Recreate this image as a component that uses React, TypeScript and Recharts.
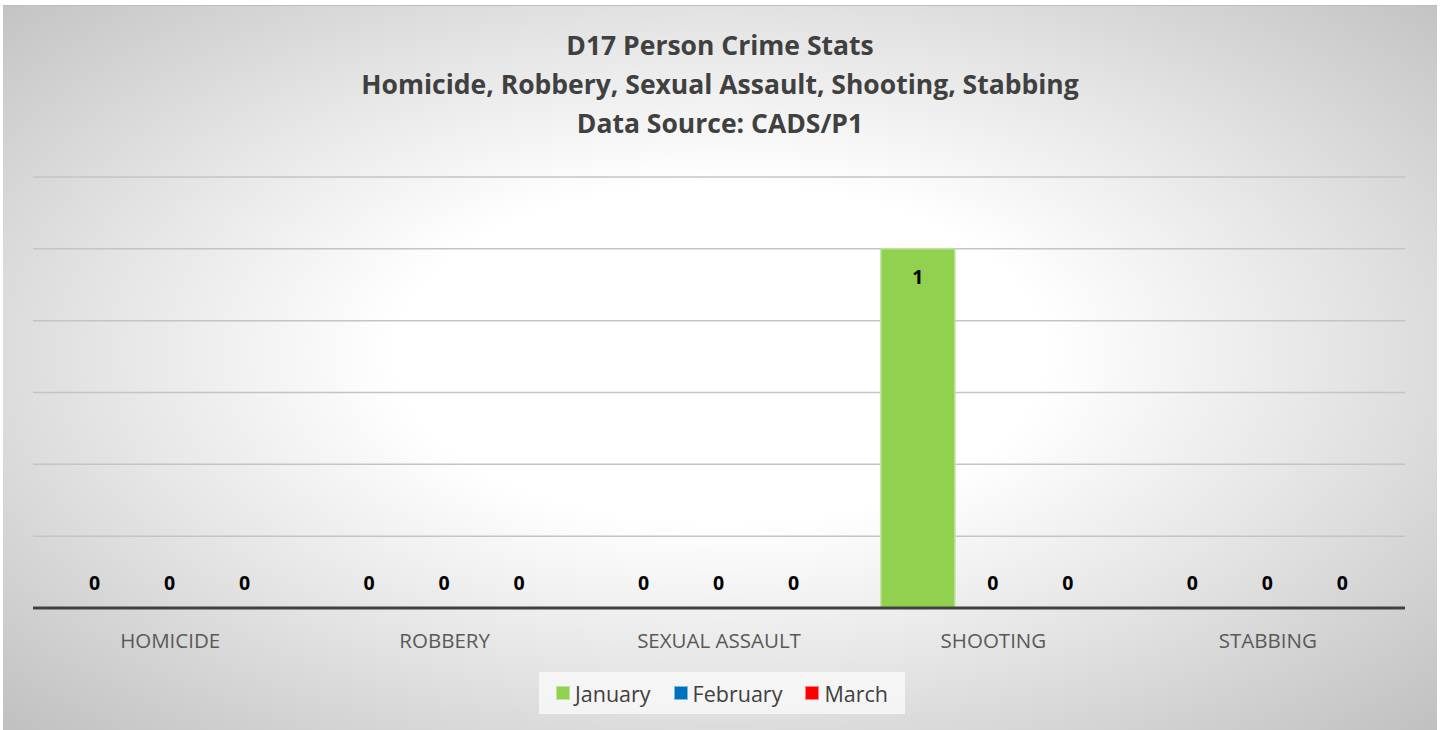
import { Bar, BarChart, CartesianGrid, LabelList, Legend, XAxis, YAxis } from 'recharts'

const categories = ['HOMICIDE', 'ROBBERY', 'SEXUAL ASSAULT', 'SHOOTING', 'STABBING']
const january = [0, 0, 0, 1, 0]
const february = [0, 0, 0, 0, 0]
const march = [0, 0, 0, 0, 0]
const yTicks = [0, 0.2, 0.4, 0.6, 0.8, 1, 1.2]
const titleLines = [
  'D17 Person Crime Stats',
  'Homicide, Robbery, Sexual Assault, Shooting, Stabbing',
  'Data Source: CADS/P1',
]

const SERIES = [
  { key: 'january', name: 'January', fill: '#92d050', stroke: '#bde39a' },
  { key: 'february', name: 'February', fill: '#0070c0', stroke: '#7fb7df' },
  { key: 'march', name: 'March', fill: '#ff0000', stroke: '#ff8080' },
]

const FONT = '"Open Sans", Lato, sans-serif'

const data = categories.map((name, i) => ({
  name,
  january: january[i],
  february: february[i],
  march: march[i],
}))

// zero bars still need a rect so their "0" label gets drawn
const tinyForZero = (v: any) => (Number(v) === 0 ? 0.01 : 0)

const renderValue = (props: any) => {
  const { x, y, width, height, value } = props
  const cx = Number(x) + Number(width) / 2
  const top = Math.min(Number(y), Number(y) + Number(height))
  const cy = Number(value) === 0 ? top - 25 : top + 28
  return (
    <text
      key={`${x}-${y}`}
      x={cx}
      y={cy}
      textAnchor="middle"
      dominantBaseline="central"
      style={{ fontFamily: FONT, fontWeight: 700, fontSize: 19.5, fill: '#000' }}
    >
      {value}
    </text>
  )
}

function LegendBox() {
  return (
    <div
      style={{
        display: 'flex',
        alignItems: 'center',
        justifyContent: 'center',
        gap: 23,
        height: 42,
        background: 'rgba(248,248,248,0.85)',
        fontFamily: FONT,
        fontSize: 21.5,
        color: '#404040',
      }}
    >
      {SERIES.map((s) => (
        <span key={s.key} style={{ display: 'flex', alignItems: 'center' }}>
          <span
            style={{
              display: 'inline-block',
              width: 12,
              height: 12,
              background: s.fill,
              border: `1px solid ${s.stroke}`,
              marginRight: 5,
            }}
          />
          {s.name}
        </span>
      ))}
    </div>
  )
}

export default function App() {
  return (
    <div style={{ position: 'absolute', left: 0, top: 0, width: 1441, height: 730, background: '#fff' }}>
      <div
        style={{
          position: 'absolute',
          left: 3,
          top: 5,
          width: 1434,
          height: 725,
          borderTop: '1px solid #bdbdbd',
          boxSizing: 'border-box',
          background:
            'radial-gradient(ellipse farthest-corner at 50% 48%, #ffffff 0%, #ffffff 32%, #e6e6e6 60%, #c0c0c0 100%)',
        }}
      >
        <div
          style={{
            position: 'absolute',
            left: 0,
            top: 20,
            width: '100%',
            textAlign: 'center',
            fontFamily: FONT,
            fontWeight: 700,
            fontSize: 26.5,
            lineHeight: '39px',
            color: '#404040',
          }}
        >
          {titleLines.map((t) => (
            <div key={t}>{t}</div>
          ))}
        </div>
        <div style={{ position: 'absolute', left: 0, top: -5 }}>
          <BarChart
            width={1434}
            height={730}
            data={data}
            margin={{ top: 176, right: 32, left: 30, bottom: 21 }}
            barCategoryGap="9%"
            barGap={1}
          >
            <CartesianGrid horizontal vertical={false} stroke="#c4c4c4" strokeWidth={1.5} />
            <YAxis hide domain={[0, 1.2]} ticks={yTicks} />
            {SERIES.map((s) => (
              <Bar
                key={s.key}
                dataKey={s.key}
                name={s.name}
                fill={s.fill}
                stroke={s.stroke}
                strokeWidth={1.5}
                minPointSize={tinyForZero}
                isAnimationActive={false}
              >
                <LabelList dataKey={s.key} content={renderValue} />
              </Bar>
            ))}
            <XAxis
              dataKey="name"
              height={60}
              axisLine={{ stroke: '#404040', strokeWidth: 3 }}
              tickLine={false}
              tick={{ fontFamily: FONT, fontSize: 20.5, fill: '#595959' }}
              dy={17}
            />
            <Legend
              content={<LegendBox />}
              wrapperStyle={{ position: 'absolute', top: 671, left: 536, width: 366, bottom: 'auto' }}
            />
          </BarChart>
        </div>
      </div>
    </div>
  )
}
